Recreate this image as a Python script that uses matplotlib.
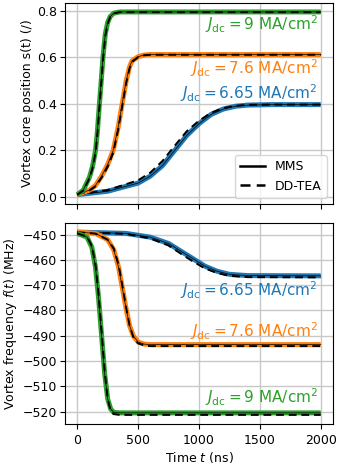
import matplotlib
matplotlib.use("Agg")
import matplotlib.pyplot as plt

# ---- data ----
labels = ["6.65", "7.6", "9"]
colors = ["tab:blue", "tab:orange", "tab:green"]

# Top panel: vortex core position s(t)
t_s_blue = [0, 250, 500, 600, 700, 800, 900, 1000, 1100, 1200, 1300, 1400, 1600, 2000]
s_blue_mms = [0.01, 0.025, 0.06, 0.09, 0.135, 0.2, 0.265, 0.315, 0.355, 0.378, 0.39, 0.395, 0.397, 0.397]
s_blue_tea = [0.01, 0.03, 0.072, 0.105, 0.155, 0.22, 0.283, 0.328, 0.362, 0.382, 0.392, 0.396, 0.397, 0.397]

t_s_orange = [0, 100, 150, 200, 250, 295, 336, 369, 402, 430, 450, 500, 550, 600, 2000]
s_orange_mms = [0.01, 0.03, 0.05, 0.09, 0.14, 0.2, 0.3, 0.4, 0.5, 0.56, 0.585, 0.603, 0.61, 0.612, 0.612]
s_orange_tea = [0.01, 0.028, 0.046, 0.083, 0.13, 0.19, 0.29, 0.39, 0.49, 0.553, 0.58, 0.601, 0.609, 0.611, 0.611]

t_s_green = [0, 50, 100, 125, 150, 165, 182, 197, 211, 230, 250, 270, 300, 350, 2000]
s_green_mms = [0.01, 0.03, 0.085, 0.13, 0.2, 0.28, 0.4, 0.5, 0.6, 0.7, 0.75, 0.775, 0.79, 0.795, 0.795]
s_green_tea = [0.01, 0.028, 0.08, 0.123, 0.19, 0.268, 0.385, 0.487, 0.588, 0.69, 0.745, 0.772, 0.789, 0.794, 0.794]

# Bottom panel: vortex frequency f(t)
t_f_blue = [0, 400, 600, 750, 850, 950, 1050, 1150, 1250, 1400, 2000]
f_blue_mms = [-449, -449.5, -451, -453.5, -456.5, -459.5, -462.5, -464.5, -465.7, -466.2, -466.3]
f_blue_tea = [-449, -449.7, -451.5, -454.3, -457.5, -460.6, -463.4, -465.2, -466.3, -466.8, -466.9]

t_f_orange = [0, 150, 250, 300, 340, 370, 400, 430, 460, 500, 550, 600, 2000]
f_orange_mms = [-449, -449.5, -452, -456, -463, -471, -479, -486, -490, -492.5, -493.3, -493.5, -493.5]
f_orange_tea = [-449, -449.6, -452, -455.5, -462, -470, -478.5, -486, -490.5, -493, -493.8, -494.1, -494.1]

t_f_green = [0, 80, 120, 150, 175, 200, 225, 250, 275, 300, 350, 2000]
f_green_mms = [-449.5, -451, -455, -463, -475, -490, -505, -515, -519, -520.3, -520.5, -520.5]
f_green_tea = [-449.5, -450.8, -454.5, -462, -473.5, -488.5, -504, -515, -519.8, -521, -521.3, -521.3]

# annotation positions (data coords)
ann_top_y = [0.447, 0.555, 0.744]
ann_bot_y = [-472.1, -488.0, -514.4]
ann_x = 1975

plt.rcParams["font.size"] = 9
plt.rcParams["ytick.major.pad"] = 2.5

fig, (ax1, ax2) = plt.subplots(2, 1, figsize=(3.39, 4.67), dpi=100, sharex=True)
fig.subplots_adjust(left=0.192, right=0.982, top=0.994, bottom=0.092, hspace=0.095)

top_sets = [(t_s_blue, s_blue_mms, s_blue_tea),
            (t_s_orange, s_orange_mms, s_orange_tea),
            (t_s_green, s_green_mms, s_green_tea)]
bot_sets = [(t_f_blue, f_blue_mms, f_blue_tea),
            (t_f_orange, f_orange_mms, f_orange_tea),
            (t_f_green, f_green_mms, f_green_tea)]

for ax, sets in ((ax1, top_sets), (ax2, bot_sets)):
    ax.grid(True, color="#c8c8c8", linewidth=1.0)
    ax.set_axisbelow(True)
    for (t, mms, tea), c in zip(sets, colors):
        ax.plot(t, mms, color=c, lw=3.6, solid_capstyle="butt", solid_joinstyle="round")
        ax.plot(t, mms, color="k", lw=0.5)
        ax.plot(t, tea, color="k", lw=1.4, ls=(0, (4, 2.5)))

for lab, c, y in zip(labels, colors, ann_top_y):
    ax1.text(ann_x, y, r"$J_\mathrm{dc} = %s$ MA/cm$^2$" % lab, color=c,
             fontsize=11, ha="right", va="center")
for lab, c, y in zip(labels, colors, ann_bot_y):
    ax2.text(ann_x, y, r"$J_\mathrm{dc} = %s$ MA/cm$^2$" % lab, color=c,
             fontsize=11, ha="right", va="center")

ax1.plot([], [], color="k", lw=1.8, label="MMS")
ax1.plot([], [], color="k", lw=1.8, ls=(0, (4, 2.5)), label="DD-TEA")
ax1.legend(loc="lower right", fontsize=9)

ax1.set_ylabel("Vortex core position s(t) (/)", labelpad=2)
ax2.set_ylabel(r"Vortex frequency $f(t)$ (MHz)", labelpad=2)
ax2.set_xlabel(r"Time $t$ (ns)", labelpad=2)
ax2.set_xticks([0, 500, 1000, 1500, 2000])
ax1.set_yticks([0.0, 0.2, 0.4, 0.6, 0.8])
ax2.set_yticks(list(range(-450, -521, -10)))

fig.savefig("out.png", dpi=100)
